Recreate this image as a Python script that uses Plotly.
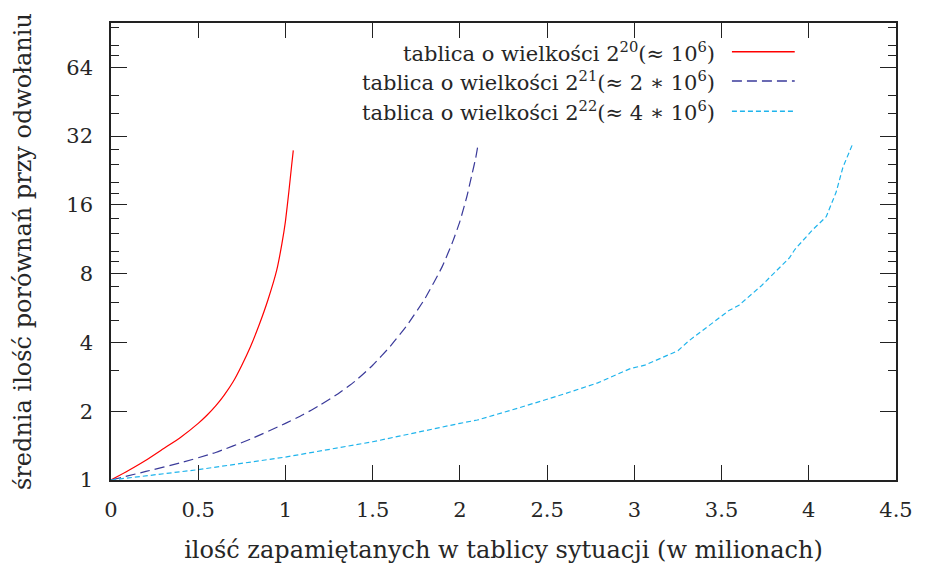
import plotly.graph_objects as go

# Average number of comparisons per lookup vs. number of stored positions (millions)
red_x = [0, 0.1, 0.2, 0.3, 0.4, 0.5, 0.55, 0.6, 0.65, 0.7, 0.75, 0.8, 0.85, 0.9, 0.95,
         0.98, 1.0, 1.02, 1.035, 1.045]
red_y = [1, 1.10, 1.22, 1.37, 1.54, 1.77, 1.92, 2.11, 2.36, 2.69, 3.18, 3.84, 4.79, 6.15,
         8.28, 10.85, 13.55, 18.4, 23.6, 27.7]

blue_x = [0, 0.2, 0.4, 0.6, 0.8, 1.0, 1.1, 1.2, 1.3, 1.4, 1.5, 1.6, 1.7, 1.8, 1.9, 1.96,
          2.0, 2.04, 2.07, 2.09, 2.105]
blue_y = [1, 1.09, 1.19, 1.32, 1.51, 1.77, 1.93, 2.13, 2.38, 2.71, 3.18, 3.84, 4.79, 6.23,
          8.63, 11.1, 13.55, 17.4, 21.9, 25.5, 29.6]

cyan_x = [0, 0.5, 1.0, 1.5, 2.0, 2.1, 2.33, 2.56, 2.79, 2.98, 3.06, 3.25, 3.31, 3.44,
          3.54, 3.6, 3.73, 3.89, 3.92, 4.02, 4.1, 4.157, 4.196, 4.255]
cyan_y = [1, 1.11, 1.26, 1.47, 1.77, 1.83, 2.06, 2.33, 2.66, 3.08, 3.18, 3.68, 4.05, 4.8,
          5.5, 5.82, 7.1, 9.4, 10.2, 12.4, 14.2, 18.2, 23.4, 30.0]

series_names = [
    "tablica o wielkości 2<sup>20</sup>(≈ 10<sup>6</sup>)",
    "tablica o wielkości 2<sup>21</sup>(≈ 2 ∗ 10<sup>6</sup>)",
    "tablica o wielkości 2<sup>22</sup>(≈ 4 ∗ 10<sup>6</sup>)",
]
series_colors = ["#ff0000", "#3a3a9a", "#1fb4ec"]
series_dash = ["solid", "10px,5px", "5px,3px"]

x_ticks = [0, 0.5, 1, 1.5, 2, 2.5, 3, 3.5, 4, 4.5]
x_tick_text = ["0", "0.5", "1", "1.5", "2", "2.5", "3", "3.5", "4", "4.5"]
y_ticks = [1, 2, 4, 8, 16, 32, 64]
y_minor = [3, 5, 6, 7, 9, 10, 12, 14, 18, 20, 24, 28, 40, 48, 72, 80, 96]

FONT = "DejaVu Serif"
FS = 21        # tick labels and key
FS_TITLE = 24  # axis titles
TXT = "#262626"

fig = go.Figure()
data = [(red_x, red_y), (blue_x, blue_y), (cyan_x, cyan_y)]
for i, (xs, ys) in enumerate(data):
    fig.add_trace(go.Scatter(
        x=xs, y=ys, mode="lines", name=series_names[i], showlegend=False,
        line=dict(color=series_colors[i], width=1.2, dash=series_dash[i],
                  shape="spline" if i < 2 else "linear", smoothing=0.5),
    ))

# gnuplot-style key: right-aligned text followed by a line sample
key_y = [0.937, 0.873, 0.807]
for i in range(3):
    fig.add_annotation(
        xref="paper", yref="paper", x=0.772, y=key_y[i], xanchor="right", yanchor="middle",
        text=series_names[i], showarrow=False, font=dict(family=FONT, size=FS, color=TXT),
    )
    fig.add_shape(
        type="line", xref="paper", yref="paper", x0=0.791, x1=0.871, y0=key_y[i], y1=key_y[i],
        line=dict(color=series_colors[i], width=1.5, dash=series_dash[i]),
    )

fig.update_layout(
    width=937, height=573,
    margin=dict(l=111, r=41, t=23, b=93),
    paper_bgcolor="white", plot_bgcolor="white",
    font=dict(family=FONT, size=FS, color=TXT),
)
fig.update_xaxes(
    range=[0, 4.5], tickvals=x_ticks, ticktext=x_tick_text,
    ticks="inside", ticklen=15, tickwidth=1, tickcolor="#222",
    showline=True, linecolor="#222", linewidth=1.5, mirror="ticks",
    showgrid=False, zeroline=False, ticklabelstandoff=10,
    title=dict(text="ilość zapamiętanych w tablicy sytuacji (w milionach)",
               font=dict(family=FONT, size=FS_TITLE, color=TXT), standoff=20),
)
fig.update_yaxes(
    type="log", range=[0, 2], tickvals=y_ticks, ticktext=[str(v) for v in y_ticks],
    ticks="inside", ticklen=16, tickwidth=1, tickcolor="#222",
    minor=dict(tickvals=y_minor, ticks="inside", ticklen=8, tickwidth=1, tickcolor="#222",
               showgrid=False),
    showline=True, linecolor="#222", linewidth=1.5, mirror="ticks",
    showgrid=False, zeroline=False, ticklabelstandoff=12,
    title=dict(text="średnia ilość porównań przy odwołaniu",
               font=dict(family=FONT, size=FS_TITLE, color=TXT), standoff=28),
)

fig.write_html("out.html")
